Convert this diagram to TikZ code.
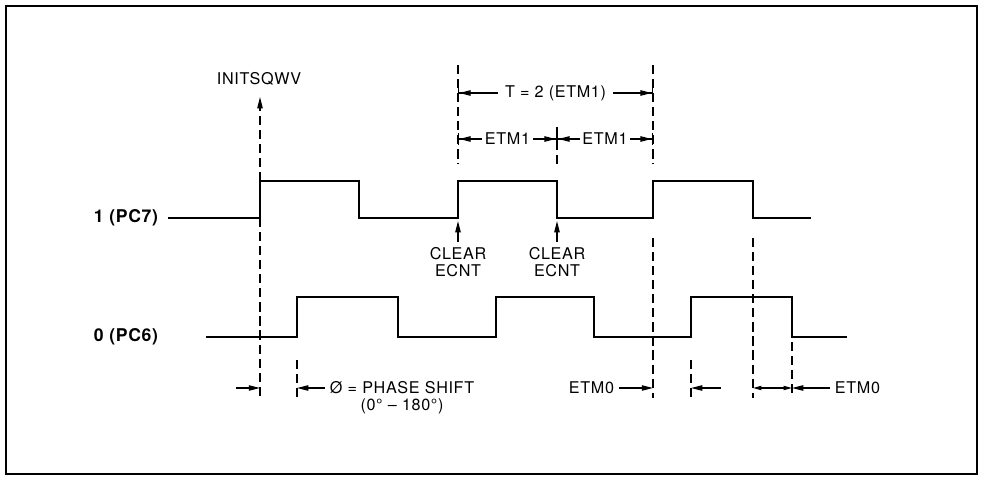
\documentclass[tikz,border=0pt]{standalone}
\usepackage{fontspec}
\setmainfont{TeX Gyre Heros}[LetterSpace=4]
\usetikzlibrary{arrows.meta,positioning}

\begin{document}
\begin{tikzpicture}[x=0.025cm,y=-0.025cm,font=\fontsize{11.5}{12.5}\selectfont,
				sig/.style={line width=2pt},
				guide/.style={line width=0.9pt,dash pattern=on 6.5pt off 3.5pt},
				arr/.style={-{Triangle[length=8pt,width=3.8pt]},line width=0.9pt},
				dim/.style={{Bar[width=9pt]Triangle[length=8pt,width=3.8pt]}-{Triangle[length=8pt,width=3.8pt]Bar[width=9pt]},line width=0.9pt},
				small/.style={{Triangle[length=6pt,width=3pt]}-{Triangle[length=6pt,width=3pt]},line width=0.9pt},
				lbl/.style={font=\fontsize{12.5}{14}\selectfont\bfseries}]
				
				\useasboundingbox (0,0) rectangle (982,480);
				\draw[line width=1pt] (6,6) rectangle (977,474);
				
				\node[lbl,left] (pc7) at (163,218) {1 (PC7)};
				\node[lbl,left] (pc6) at (163,337) {0 (PC6)};
				
				\draw[sig] (168,218) -- (260,218) -- (260,181) -- (359,181) -- (359,218) -- (458,218) -- (458,181) -- (557,181)
					-- (557,218) -- (653,218) -- (653,181) -- (753,181) -- (753,218) -- (811,218);
				\draw[sig] (206,337) -- (297,337) -- (297,297) -- (398,297) -- (398,337) -- (496,337) -- (496,297) -- (594,297)
					-- (594,337) -- (691,337) -- (691,297) -- (792,297) -- (792,337) -- (847,337);
				
				\draw[guide] (260,218) -- (260,398);
				\draw[guide] (458,65) -- (458,164);
				\draw[guide] (557,127) -- (557,164);
				\draw[guide] (653,65) -- (653,164);
				\draw[guide] (653,238) -- (653,398);
				\draw[guide] (753,238) -- (753,398);
				\draw[guide] (297,360) -- (297,398);
				\draw[guide] (691,360) -- (691,398);
				\draw[guide] (792,342) -- (792,398);
				
				\node (init) at (259,79) {INITSQWV};
				\coordinate (i1) at (260,97);
				\draw[guide,arr] (260,181) -- (i1);
				
				\node[align=center] (clr1) at (458,262) {CLEAR\\ECNT};
				\node[align=center] (clr2) at (557,262) {CLEAR\\ECNT};
				\coordinate (e1) at (458,221);
				\coordinate (e2) at (557,221);
				\draw[arr] (clr1) -- (e1);
				\draw[arr] (clr2) -- (e2);
				
				\coordinate (ta) at (458,93);
				\coordinate (tb) at (653,93);
				\draw[dim] (ta) -- (tb) node[midway,fill=white,inner xsep=5pt] (per) {T = 2 (ETM1)};
				\coordinate (ha) at (458,139);
				\coordinate (hb) at (557,139);
				\coordinate (hc) at (653,139);
				\draw[dim] (ha) -- (hb) node[midway,fill=white,inner xsep=2pt] (half1) {ETM1};
				\draw[dim] (hb) -- (hc) node[midway,fill=white,inner xsep=2pt] (half2) {ETM1};
				
				\coordinate (s0) at (236,388);
				\coordinate (s1) at (260,388);
				\coordinate (s2) at (297,388);
				\coordinate (s3) at (653,388);
				\coordinate (s4) at (691,388);
				\coordinate (s5) at (721,388);
				\coordinate (s6) at (753,388);
				\coordinate (s7) at (792,388);
				
				\draw[arr] (s0) -- (s1);
				\node[right] (phase) at (325,388) {Ø = PHASE SHIFT};
				\node (range) at (402,406) {(0° – 180°)};
				\draw[arr] (phase) -- (s2);
				\node[left] (etm0a) at (619,388) {ETM0};
				\draw[arr] (etm0a) -- (s3);
				\draw[arr] (s5) -- (s4);
				\draw[small] (s6) -- (s7);
				\node[right] (etm0b) at (830,388) {ETM0};
				\draw[arr] (etm0b) -- (s7);
			\end{tikzpicture}
\end{document}
